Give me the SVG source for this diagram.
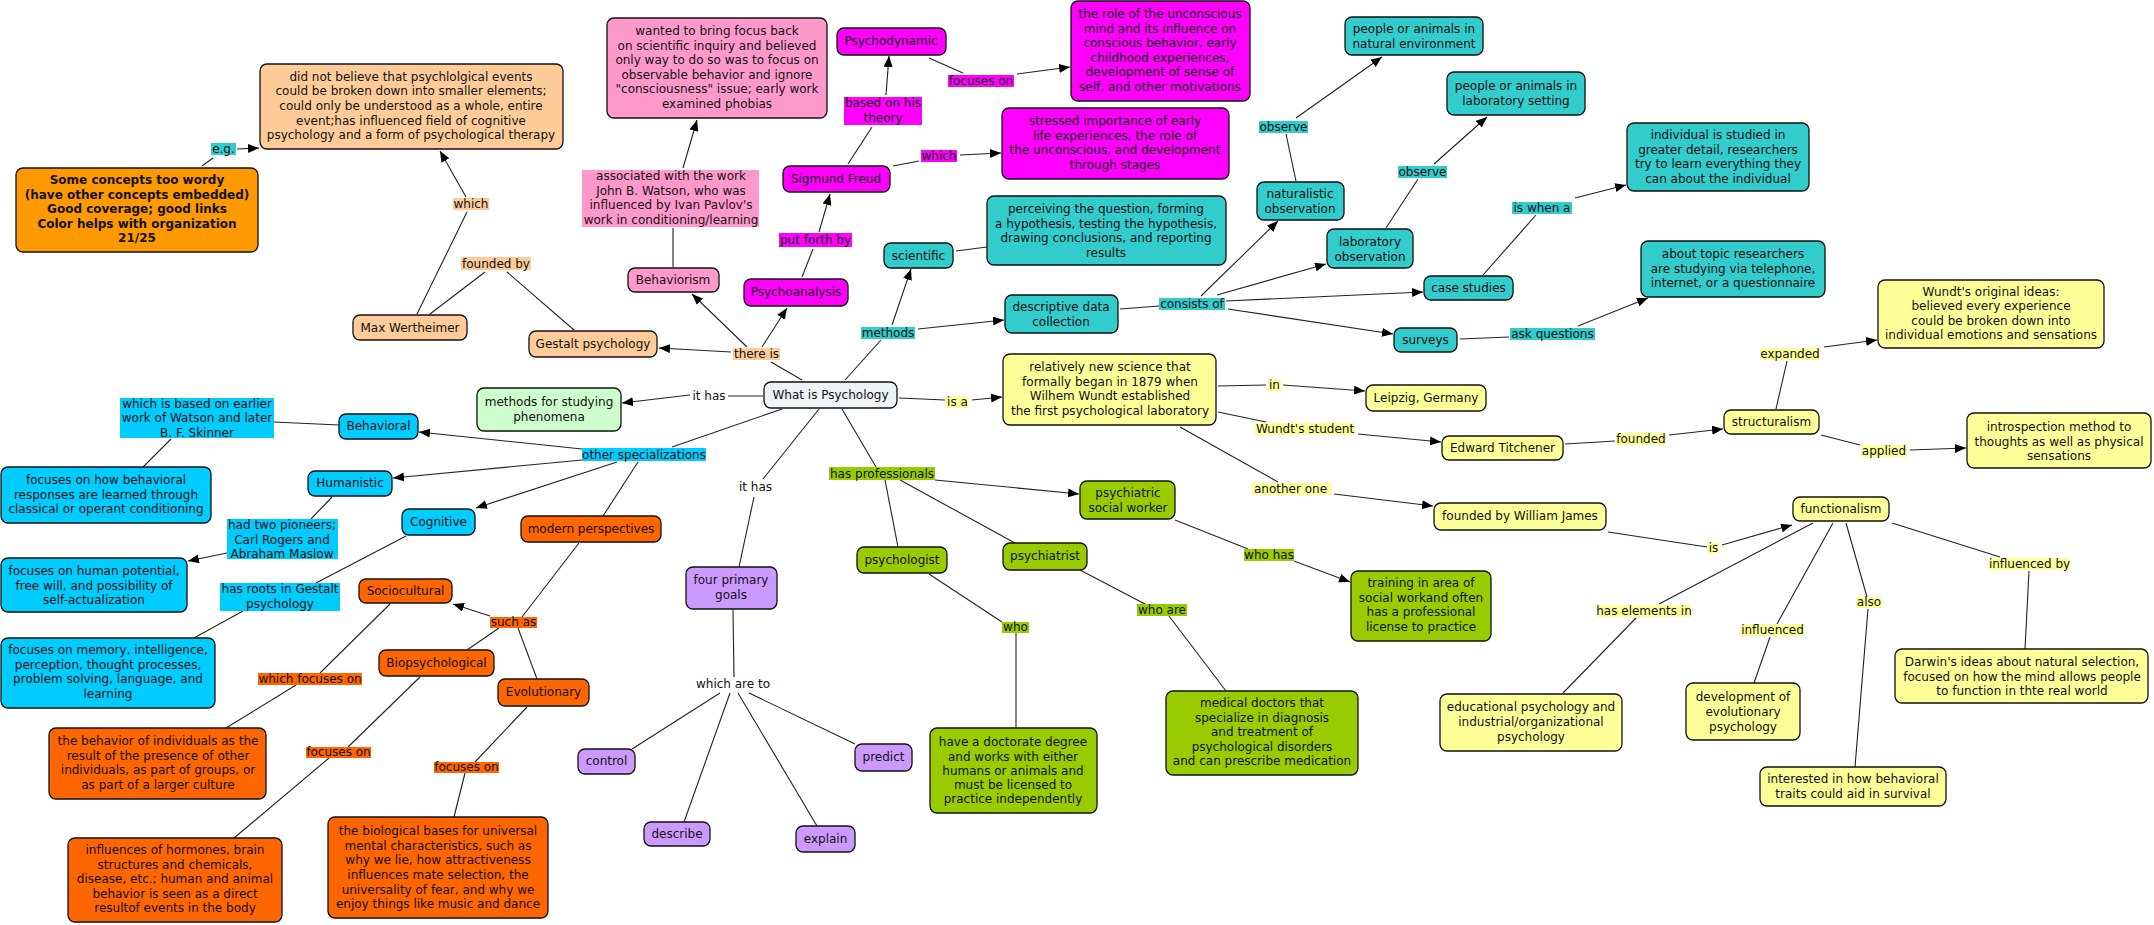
<svg xmlns="http://www.w3.org/2000/svg" width="2154" height="925" viewBox="0 0 2154 925">
<style>
text{font-family:"DejaVu Sans",Verdana,"Liberation Sans",sans-serif;font-size:12px;fill:#111;text-anchor:middle}
.b{font-weight:bold}
.n rect{stroke:#111;stroke-width:1.3}
#connectors line{stroke:#222;stroke-width:1.1}
.a{marker-end:url(#arr)}
.peach{fill:#FFCC99}.org1{fill:#FF9900}.pink{fill:#FF99CC}.mag{fill:#FF00FF}.teal{fill:#33CCCC}
.yel{fill:#FFFF99}.grn{fill:#99CC00}.pur{fill:#CC99FF}.blu{fill:#00CCFF}.org2{fill:#FF6600}
.lgr{fill:#CCFFCC}.wip{fill:#EEF3F6}
</style>
<defs>
<marker id="arr" markerUnits="userSpaceOnUse" markerWidth="12" markerHeight="10" refX="11" refY="4.5" orient="auto">
<path d="M0,0 L11,4.5 L0,9 z" fill="#000"/>
</marker>
</defs>
<rect width="2154" height="925" fill="#fff"/>

<g id="connectors">
<line x1="202" y1="166" x2="213" y2="158"/>
<line class="a" x1="237" y1="149" x2="259" y2="148"/>
<line x1="417" y1="314" x2="467" y2="212"/>
<line class="a" x1="466" y1="197" x2="440" y2="151"/>
<line x1="430" y1="314" x2="485" y2="272"/>
<line x1="507" y1="272" x2="574" y2="330"/>
<line x1="802" y1="380" x2="771" y2="362"/>
<line class="a" x1="731" y1="352" x2="659" y2="348"/>
<line class="a" x1="747" y1="347" x2="692" y2="294"/>
<line class="a" x1="762" y1="347" x2="787" y2="308"/>
<line x1="673" y1="267" x2="673" y2="228"/>
<line class="a" x1="683" y1="168" x2="697" y2="120"/>
<line x1="802" y1="277" x2="813" y2="249"/>
<line class="a" x1="819" y1="232" x2="830" y2="194"/>
<line x1="848" y1="164" x2="872" y2="127"/>
<line class="a" x1="886" y1="95" x2="889" y2="56"/>
<line x1="929" y1="58" x2="963" y2="73"/>
<line class="a" x1="1017" y1="74" x2="1070" y2="67"/>
<line x1="893" y1="166" x2="919" y2="161"/>
<line class="a" x1="960" y1="155" x2="1001" y2="153"/>
<line x1="845" y1="380" x2="881" y2="340"/>
<line class="a" x1="892" y1="325" x2="911" y2="269"/>
<line class="a" x1="918" y1="329" x2="1004" y2="320"/>
<line x1="956" y1="251" x2="987" y2="247"/>
<line x1="1120" y1="309" x2="1159" y2="306"/>
<line class="a" x1="1201" y1="296" x2="1278" y2="221"/>
<line class="a" x1="1217" y1="295" x2="1326" y2="264"/>
<line class="a" x1="1226" y1="301" x2="1423" y2="292"/>
<line class="a" x1="1228" y1="309" x2="1393" y2="334"/>
<line x1="1296" y1="181" x2="1286" y2="134"/>
<line class="a" x1="1296" y1="118" x2="1382" y2="57"/>
<line x1="1386" y1="228" x2="1418" y2="179"/>
<line class="a" x1="1434" y1="164" x2="1487" y2="117"/>
<line x1="1483" y1="275" x2="1536" y2="215"/>
<line class="a" x1="1575" y1="198" x2="1626" y2="185"/>
<line x1="1460" y1="339" x2="1509" y2="337"/>
<line class="a" x1="1578" y1="326" x2="1648" y2="298"/>
<line x1="763" y1="396" x2="728" y2="396"/>
<line class="a" x1="690" y1="395" x2="622" y2="403"/>
<line x1="899" y1="398" x2="945" y2="400"/>
<line class="a" x1="972" y1="400" x2="1002" y2="397"/>
<line x1="1218" y1="386" x2="1266" y2="385"/>
<line class="a" x1="1283" y1="385" x2="1365" y2="391"/>
<line x1="1218" y1="412" x2="1266" y2="422"/>
<line class="a" x1="1358" y1="434" x2="1441" y2="442"/>
<line x1="1565" y1="444" x2="1615" y2="441"/>
<line class="a" x1="1669" y1="435" x2="1723" y2="429"/>
<line x1="1776" y1="409" x2="1787" y2="361"/>
<line class="a" x1="1824" y1="347" x2="1877" y2="340"/>
<line x1="1821" y1="435" x2="1860" y2="445"/>
<line class="a" x1="1910" y1="450" x2="1966" y2="448"/>
<line x1="1180" y1="427" x2="1278" y2="482"/>
<line class="a" x1="1334" y1="494" x2="1433" y2="506"/>
<line x1="1608" y1="532" x2="1707" y2="547"/>
<line class="a" x1="1722" y1="545" x2="1792" y2="525"/>
<line x1="1813" y1="523" x2="1659" y2="604"/>
<line x1="1636" y1="618" x2="1563" y2="693"/>
<line x1="1833" y1="523" x2="1777" y2="624"/>
<line x1="1770" y1="637" x2="1754" y2="683"/>
<line x1="1846" y1="523" x2="1867" y2="597"/>
<line x1="1868" y1="609" x2="1855" y2="767"/>
<line x1="1892" y1="523" x2="2000" y2="557"/>
<line x1="2029" y1="571" x2="2025" y2="649"/>
<line x1="782" y1="409" x2="672" y2="447"/>
<line class="a" x1="582" y1="449" x2="419" y2="432"/>
<line class="a" x1="582" y1="460" x2="393" y2="478"/>
<line class="a" x1="617" y1="462" x2="476" y2="508"/>
<line x1="638" y1="462" x2="603" y2="516"/>
<line x1="339" y1="425" x2="274" y2="422"/>
<line x1="171" y1="439" x2="143" y2="467"/>
<line x1="332" y1="497" x2="311" y2="519"/>
<line class="a" x1="227" y1="553" x2="188" y2="561"/>
<line x1="406" y1="536" x2="316" y2="583"/>
<line x1="243" y1="611" x2="194" y2="638"/>
<line x1="579" y1="543" x2="522" y2="617"/>
<line class="a" x1="490" y1="616" x2="453" y2="604"/>
<line x1="499" y1="628" x2="467" y2="650"/>
<line x1="518" y1="628" x2="537" y2="679"/>
<line x1="390" y1="604" x2="320" y2="673"/>
<line x1="296" y1="685" x2="226" y2="728"/>
<line x1="420" y1="677" x2="348" y2="747"/>
<line x1="329" y1="758" x2="234" y2="838"/>
<line x1="527" y1="707" x2="475" y2="762"/>
<line x1="465" y1="773" x2="454" y2="817"/>
<line x1="819" y1="409" x2="763" y2="479"/>
<line x1="754" y1="497" x2="739" y2="567"/>
<line x1="733" y1="610" x2="734" y2="677"/>
<line x1="720" y1="693" x2="632" y2="749"/>
<line x1="730" y1="693" x2="684" y2="822"/>
<line x1="738" y1="693" x2="817" y2="826"/>
<line x1="749" y1="693" x2="855" y2="744"/>
<line x1="842" y1="409" x2="876" y2="467"/>
<line class="a" x1="935" y1="480" x2="1079" y2="494"/>
<line x1="885" y1="480" x2="898" y2="547"/>
<line x1="900" y1="480" x2="1015" y2="543"/>
<line x1="929" y1="574" x2="1002" y2="622"/>
<line x1="1016" y1="632" x2="1016" y2="728"/>
<line x1="1175" y1="520" x2="1248" y2="549"/>
<line class="a" x1="1294" y1="561" x2="1350" y2="582"/>
<line x1="1080" y1="570" x2="1145" y2="604"/>
<line x1="1169" y1="616" x2="1226" y2="691"/>
</g>

<g id="link-labels">
<rect class="teal" x="211" y="143" width="25" height="12"/><text x="223.5" y="153">e.g.</text>
<rect class="peach" x="453" y="198" width="36" height="12"/><text x="471" y="208">which</text>
<rect class="peach" x="461" y="257" width="70" height="13"/><text x="496" y="268">founded by</text>
<rect class="peach" x="733" y="348" width="47" height="12"/><text x="756.5" y="358">there is</text>
<rect class="pink" x="582" y="170" width="177" height="57"/>
<text><tspan x="671" y="180">associated with the work</tspan><tspan x="671" y="195">John B. Watson, who was</tspan><tspan x="671" y="209">influenced by Ivan Pavlov's</tspan><tspan x="671" y="224">work in conditioning/learning</tspan></text>
<rect class="mag" x="779" y="233" width="73" height="14"/><text x="815.5" y="244">put forth by</text>
<rect class="mag" x="844" y="97" width="78" height="28"/>
<text><tspan x="883" y="107">based on his</tspan><tspan x="883" y="122">theory</tspan></text>
<rect class="mag" x="948" y="75" width="66" height="12"/><text x="981" y="85">focuses on</text>
<rect class="mag" x="921" y="150" width="36" height="12"/><text x="939" y="160">which</text>
<rect class="teal" x="861" y="327" width="54" height="12"/><text x="888" y="337">methods</text>
<rect class="teal" x="1159" y="298" width="66" height="12"/><text x="1192" y="308">consists of</text>
<rect class="teal" x="1259" y="121" width="49" height="12"/><text x="1283.5" y="131">observe</text>
<rect class="teal" x="1398" y="166" width="49" height="12"/><text x="1422.5" y="176">observe</text>
<rect class="teal" x="1512" y="202" width="60" height="12"/><text x="1542" y="212">is when a</text>
<rect class="teal" x="1510" y="328" width="85" height="12"/><text x="1552.5" y="338">ask questions</text>
<text x="709" y="400">it has</text>
<rect class="yel" x="946" y="396" width="23" height="12"/><text x="957.5" y="406">is a</text>
<rect class="yel" x="1268" y="380" width="13" height="11"/><text x="1274.5" y="389">in</text>
<rect class="yel" x="1255" y="423" width="100" height="12"/><text x="1305" y="433">Wundt's student</text>
<rect class="yel" x="1252" y="483" width="80" height="12"/><text x="1254" y="493" style="text-anchor:start">another one</text>
<rect class="yel" x="1616" y="433" width="50" height="12"/><text x="1641" y="443">founded</text>
<rect class="yel" x="1760" y="348" width="60" height="12"/><text x="1790" y="358">expanded</text>
<rect class="yel" x="1861" y="445" width="46" height="12"/><text x="1884" y="455">applied</text>
<rect class="yel" x="1708" y="543" width="11" height="11"/><text x="1713.5" y="552">is</text>
<rect class="yel" x="1597" y="605" width="94" height="12"/><text x="1644" y="615">has elements in</text>
<rect class="yel" x="1741" y="624" width="63" height="12"/><text x="1772.5" y="634">influenced</text>
<rect class="yel" x="1856" y="597" width="26" height="11"/><text x="1869" y="606">also</text>
<rect class="yel" x="1989" y="558" width="81" height="12"/><text x="2029.5" y="568">influenced by</text>
<rect class="blu" x="582" y="448" width="124" height="13"/><text x="644" y="459">other specializations</text>
<rect class="blu" x="120" y="398" width="154" height="40"/>
<text><tspan x="197" y="408">which is based on earlier</tspan><tspan x="197" y="422">work of Watson and later</tspan><tspan x="197" y="437">B. F. Skinner</tspan></text>
<rect class="blu" x="227" y="519" width="111" height="40"/>
<text><tspan x="282" y="529">had two pioneers;</tspan><tspan x="282" y="544">Carl Rogers and</tspan><tspan x="282" y="558">Abraham Maslow</tspan></text>
<rect class="blu" x="220" y="583" width="120" height="28"/>
<text><tspan x="280" y="593">has roots in Gestalt</tspan><tspan x="280" y="608">psychology</tspan></text>
<rect class="org2" x="490" y="617" width="47" height="11"/><text x="513.5" y="626">such as</text>
<rect class="org2" x="258" y="673" width="104" height="12"/><text x="310" y="683">which focuses on</text>
<rect class="org2" x="306" y="747" width="65" height="11"/><text x="338.5" y="756">focuses on</text>
<rect class="org2" x="434" y="762" width="65" height="11"/><text x="466.5" y="771">focuses on</text>
<text x="755.5" y="491">it has</text>
<text x="733" y="688">which are to</text>
<rect class="grn" x="829" y="467" width="106" height="13"/><text x="882" y="478">has professionals</text>
<rect class="grn" x="1002" y="622" width="27" height="11"/><text x="1015.5" y="631">who</text>
<rect class="grn" x="1244" y="549" width="50" height="12"/><text x="1269" y="559">who has</text>
<rect class="grn" x="1137" y="604" width="50" height="12"/><text x="1162" y="614">who are</text>
</g>

<g id="n-someconcepts" class="n"><rect class="org1" x="16" y="168" width="242" height="84" rx="7"/>
<text class="b"><tspan x="137" y="184">Some concepts too wordy</tspan><tspan x="137" y="199">(have other concepts embedded)</tspan><tspan x="137" y="213">Good coverage; good links</tspan><tspan x="137" y="228">Color helps with organization</tspan><tspan x="137" y="242">21/25</tspan></text></g>
<g id="n-gestaltdesc" class="n"><rect class="peach" x="260" y="64" width="303" height="85" rx="7"/>
<text><tspan x="411" y="81">did not believe that psychlolgical events</tspan><tspan x="411" y="95">could be broken down into smaller elements;</tspan><tspan x="411" y="110">could only be understood as a whole, entire</tspan><tspan x="411" y="125">event;has influenced field of cognitive</tspan><tspan x="411" y="139">psychology and a form of psychological therapy</tspan></text></g>
<g id="n-max" class="n"><rect class="peach" x="353" y="315" width="114" height="25" rx="7"/><text x="410" y="332">Max Wertheimer</text></g>
<g id="n-gestalt" class="n"><rect class="peach" x="529" y="331" width="128" height="26" rx="7"/><text x="593" y="348">Gestalt psychology</text></g>
<g id="n-behdesc" class="n"><rect class="pink" x="607" y="18" width="220" height="100" rx="7"/>
<text><tspan x="717" y="35">wanted to bring focus back</tspan><tspan x="717" y="50">on scientific inquiry and believed</tspan><tspan x="717" y="64">only way to do so was to focus on</tspan><tspan x="717" y="79">observable behavior and ignore</tspan><tspan x="717" y="93">"consciousness" issue; early work</tspan><tspan x="717" y="108">examined phobias</tspan></text></g>
<g id="n-behaviorism" class="n"><rect class="pink" x="628" y="268" width="91" height="24" rx="7"/><text x="673" y="284">Behaviorism</text></g>
<g id="n-psychodynamic" class="n"><rect class="mag" x="837" y="28" width="109" height="27" rx="7"/><text x="891" y="45">Psychodynamic</text></g>
<g id="n-unconscious" class="n"><rect class="mag" x="1071" y="1" width="179" height="100" rx="7"/>
<text><tspan x="1160" y="18">the role of the unconscious</tspan><tspan x="1160" y="33">mind and its influence on</tspan><tspan x="1160" y="47">conscious behavior, early</tspan><tspan x="1160" y="62">childhood experiences,</tspan><tspan x="1160" y="76">development of sense of</tspan><tspan x="1160" y="91">self, and other motivations</tspan></text></g>
<g id="n-freud" class="n"><rect class="mag" x="783" y="166" width="107" height="26" rx="7"/><text x="836" y="183">Sigmund Freud</text></g>
<g id="n-stressed" class="n"><rect class="mag" x="1002" y="108" width="227" height="71" rx="7"/>
<text><tspan x="1115" y="125">stressed importance of early</tspan><tspan x="1115" y="140">life experiences, the role of</tspan><tspan x="1115" y="154">the unconscious, and development</tspan><tspan x="1115" y="169">through stages</tspan></text></g>
<g id="n-psychoanalysis" class="n"><rect class="mag" x="744" y="279" width="104" height="27" rx="7"/><text x="796" y="296">Psychoanalysis</text></g>
<g id="n-scientific" class="n"><rect class="teal" x="884" y="243" width="69" height="25" rx="7"/><text x="918.5" y="260">scientific</text></g>
<g id="n-perceiving" class="n"><rect class="teal" x="987" y="196" width="239" height="69" rx="7"/>
<text><tspan x="1106" y="213">perceiving the question, forming</tspan><tspan x="1106" y="228">a hypothesis, testing the hypothesis,</tspan><tspan x="1106" y="242">drawing conclusions, and reporting</tspan><tspan x="1106" y="257">results</tspan></text></g>
<g id="n-descdata" class="n"><rect class="teal" x="1005" y="295" width="113" height="38" rx="7"/>
<text><tspan x="1061" y="311">descriptive data</tspan><tspan x="1061" y="326">collection</tspan></text></g>
<g id="n-naturalistic" class="n"><rect class="teal" x="1257" y="182" width="87" height="38" rx="7"/>
<text><tspan x="1300" y="198">naturalistic</tspan><tspan x="1300" y="213">observation</tspan></text></g>
<g id="n-labobs" class="n"><rect class="teal" x="1327" y="229" width="86" height="39" rx="7"/>
<text><tspan x="1370" y="246">laboratory</tspan><tspan x="1370" y="261">observation</tspan></text></g>
<g id="n-peoplenat" class="n"><rect class="teal" x="1345" y="17" width="138" height="38" rx="7"/>
<text><tspan x="1414" y="33">people or animals in</tspan><tspan x="1414" y="48">natural environment</tspan></text></g>
<g id="n-peoplelab" class="n"><rect class="teal" x="1447" y="72" width="138" height="43" rx="7"/>
<text><tspan x="1516" y="90">people or animals in</tspan><tspan x="1516" y="105">laboratory setting</tspan></text></g>
<g id="n-individual" class="n"><rect class="teal" x="1627" y="123" width="182" height="68" rx="7"/>
<text><tspan x="1718" y="139">individual is studied in</tspan><tspan x="1718" y="154">greater detail, researchers</tspan><tspan x="1718" y="168">try to learn everything they</tspan><tspan x="1718" y="183">can about the individual</tspan></text></g>
<g id="n-casestudies" class="n"><rect class="teal" x="1424" y="276" width="89" height="24" rx="7"/><text x="1468.5" y="292">case studies</text></g>
<g id="n-surveys" class="n"><rect class="teal" x="1394" y="328" width="63" height="24" rx="7"/><text x="1425.5" y="344">surveys</text></g>
<g id="n-abouttopic" class="n"><rect class="teal" x="1641" y="241" width="184" height="56" rx="7"/>
<text><tspan x="1733" y="258">about topic researchers</tspan><tspan x="1733" y="273">are studying via telephone,</tspan><tspan x="1733" y="287">internet, or a questionnaire</tspan></text></g>
<g id="n-wundtorig" class="n"><rect class="yel" x="1878" y="280" width="226" height="68" rx="7"/>
<text><tspan x="1991" y="296">Wundt's original ideas:</tspan><tspan x="1991" y="310">believed every experience</tspan><tspan x="1991" y="325">could be broken down into</tspan><tspan x="1991" y="339">individual emotions and sensations</tspan></text></g>
<g id="n-wip" class="n"><rect class="wip" x="764" y="382" width="133" height="26" rx="7"/><text x="830.5" y="399">What is Psychology</text></g>
<g id="n-methodsstudy" class="n"><rect class="lgr" x="477" y="388" width="144" height="43" rx="7"/>
<text><tspan x="549" y="406">methods for studying</tspan><tspan x="549" y="421">phenomena</tspan></text></g>
<g id="n-relnew" class="n"><rect class="yel" x="1003" y="354" width="213" height="71" rx="7"/>
<text><tspan x="1110" y="371">relatively new science that</tspan><tspan x="1110" y="386">formally began in 1879 when</tspan><tspan x="1110" y="400">Wilhem Wundt established</tspan><tspan x="1110" y="415">the first psychological laboratory</tspan></text></g>
<g id="n-leipzig" class="n"><rect class="yel" x="1366" y="385" width="120" height="26" rx="7"/><text x="1426" y="402">Leipzig, Germany</text></g>
<g id="n-titchener" class="n"><rect class="yel" x="1442" y="436" width="121" height="24" rx="7"/><text x="1502.5" y="452">Edward Titchener</text></g>
<g id="n-structuralism" class="n"><rect class="yel" x="1724" y="410" width="95" height="24" rx="7"/><text x="1771.5" y="426">structuralism</text></g>
<g id="n-introspection" class="n"><rect class="yel" x="1967" y="413" width="184" height="55" rx="7"/>
<text><tspan x="2059" y="431">introspection method to</tspan><tspan x="2059" y="446">thoughts as well as physical</tspan><tspan x="2059" y="460">sensations</tspan></text></g>
<g id="n-james" class="n"><rect class="yel" x="1434" y="503" width="172" height="27" rx="7"/><text x="1520" y="520">founded by William James</text></g>
<g id="n-functionalism" class="n"><rect class="yel" x="1793" y="497" width="96" height="24" rx="7"/><text x="1841" y="513">functionalism</text></g>
<g id="n-educational" class="n"><rect class="yel" x="1440" y="694" width="182" height="57" rx="7"/>
<text><tspan x="1531" y="711">educational psychology and</tspan><tspan x="1531" y="726">industrial/organizational</tspan><tspan x="1531" y="741">psychology</tspan></text></g>
<g id="n-development" class="n"><rect class="yel" x="1686" y="683" width="114" height="57" rx="7"/>
<text><tspan x="1743" y="701">development of</tspan><tspan x="1743" y="716">evolutionary</tspan><tspan x="1743" y="731">psychology</tspan></text></g>
<g id="n-interested" class="n"><rect class="yel" x="1760" y="767" width="186" height="39" rx="7"/>
<text><tspan x="1853" y="783">interested in how behavioral</tspan><tspan x="1853" y="798">traits could aid in survival</tspan></text></g>
<g id="n-darwin" class="n"><rect class="yel" x="1895" y="649" width="253" height="54" rx="7"/>
<text><tspan x="2022" y="666">Darwin's ideas about natural selection,</tspan><tspan x="2022" y="681">focused on how the mind allows people</tspan><tspan x="2022" y="695">to function in thte real world</tspan></text></g>
<g id="n-psw" class="n"><rect class="grn" x="1080" y="481" width="95" height="38" rx="7"/>
<text><tspan x="1128" y="497">psychiatric</tspan><tspan x="1128" y="512">social worker</tspan></text></g>
<g id="n-training" class="n"><rect class="grn" x="1351" y="571" width="140" height="70" rx="7"/>
<text><tspan x="1421" y="587">training in area of</tspan><tspan x="1421" y="602">social workand often</tspan><tspan x="1421" y="616">has a professional</tspan><tspan x="1421" y="631">license to practice</tspan></text></g>
<g id="n-medical" class="n"><rect class="grn" x="1166" y="691" width="192" height="84" rx="7"/>
<text><tspan x="1262" y="707">medical doctors that</tspan><tspan x="1262" y="722">specialize in diagnosis</tspan><tspan x="1262" y="736">and treatment of</tspan><tspan x="1262" y="751">psychological disorders</tspan><tspan x="1262" y="765">and can prescribe medication</tspan></text></g>
<g id="n-psychologist" class="n"><rect class="grn" x="857" y="547" width="90" height="26" rx="7"/><text x="902" y="564">psychologist</text></g>
<g id="n-psychiatrist" class="n"><rect class="grn" x="1003" y="543" width="84" height="27" rx="7"/><text x="1045" y="560">psychiatrist</text></g>
<g id="n-doctorate" class="n"><rect class="grn" x="930" y="728" width="167" height="85" rx="7"/>
<text><tspan x="1013" y="746">have a doctorate degree</tspan><tspan x="1013" y="761">and works with either</tspan><tspan x="1013" y="775">humans or animals and</tspan><tspan x="1013" y="789">must be licensed to</tspan><tspan x="1013" y="803">practice independently</tspan></text></g>
<g id="n-fourgoals" class="n"><rect class="pur" x="686" y="567" width="91" height="42" rx="7"/>
<text><tspan x="731" y="584">four primary</tspan><tspan x="731" y="599">goals</tspan></text></g>
<g id="n-control" class="n"><rect class="pur" x="578" y="749" width="57" height="25" rx="7"/><text x="606.5" y="765">control</text></g>
<g id="n-predict" class="n"><rect class="pur" x="855" y="744" width="57" height="27" rx="7"/><text x="883.5" y="761">predict</text></g>
<g id="n-describe" class="n"><rect class="pur" x="644" y="822" width="66" height="24" rx="7"/><text x="677" y="838">describe</text></g>
<g id="n-explain" class="n"><rect class="pur" x="796" y="826" width="59" height="26" rx="7"/><text x="825.5" y="843">explain</text></g>
<g id="n-behavioral" class="n"><rect class="blu" x="339" y="414" width="79" height="25" rx="7"/><text x="378.5" y="430">Behavioral</text></g>
<g id="n-humanistic" class="n"><rect class="blu" x="308" y="471" width="84" height="25" rx="7"/><text x="350" y="487">Humanistic</text></g>
<g id="n-cognitive" class="n"><rect class="blu" x="402" y="509" width="73" height="26" rx="7"/><text x="438.5" y="526">Cognitive</text></g>
<g id="n-behfocus" class="n"><rect class="blu" x="1" y="467" width="210" height="56" rx="7"/>
<text><tspan x="106" y="484">focuses on how behavioral</tspan><tspan x="106" y="499">responses are learned through</tspan><tspan x="106" y="513">classical or operant conditioning</tspan></text></g>
<g id="n-humfocus" class="n"><rect class="blu" x="1" y="558" width="186" height="54" rx="7"/>
<text><tspan x="94" y="575">focuses on human potential,</tspan><tspan x="94" y="590">free will, and possibility of</tspan><tspan x="94" y="604">self-actualization</tspan></text></g>
<g id="n-cogfocus" class="n"><rect class="blu" x="1" y="638" width="214" height="70" rx="7"/>
<text><tspan x="108" y="654">focuses on memory, intelligence,</tspan><tspan x="108" y="669">perception, thought processes,</tspan><tspan x="108" y="683">problem solving, language, and</tspan><tspan x="108" y="698">learning</tspan></text></g>
<g id="n-modern" class="n"><rect class="org2" x="521" y="516" width="140" height="26" rx="7"/><text x="591" y="533">modern perspectives</text></g>
<g id="n-sociocultural" class="n"><rect class="org2" x="359" y="579" width="93" height="24" rx="7"/><text x="405.5" y="595">Sociocultural</text></g>
<g id="n-biopsych" class="n"><rect class="org2" x="379" y="650" width="115" height="26" rx="7"/><text x="436.5" y="667">Biopsychological</text></g>
<g id="n-evolutionary" class="n"><rect class="org2" x="498" y="679" width="91" height="27" rx="7"/><text x="543.5" y="696">Evolutionary</text></g>
<g id="n-socdesc" class="n"><rect class="org2" x="49" y="728" width="217" height="71" rx="7"/>
<text><tspan x="158" y="745">the behavior of individuals as the</tspan><tspan x="158" y="760">result of the presence of other</tspan><tspan x="158" y="774">individuals, as part of groups, or</tspan><tspan x="158" y="789">as part of a larger culture</tspan></text></g>
<g id="n-biodesc" class="n"><rect class="org2" x="68" y="838" width="214" height="84" rx="7"/>
<text><tspan x="175" y="854">influences of hormones, brain</tspan><tspan x="175" y="869">structures and chemicals,</tspan><tspan x="175" y="883">disease, etc.; human and animal</tspan><tspan x="175" y="898">behavior is seen as a direct</tspan><tspan x="175" y="912">resultof events in the body</tspan></text></g>
<g id="n-evodesc" class="n"><rect class="org2" x="328" y="817" width="220" height="101" rx="7"/>
<text><tspan x="438" y="835">the biological bases for universal</tspan><tspan x="438" y="850">mental characteristics, such as</tspan><tspan x="438" y="864">why we lie, how attractiveness</tspan><tspan x="438" y="879">influences mate selection, the</tspan><tspan x="438" y="894">universality of fear, and why we</tspan><tspan x="438" y="908">enjoy things like music and dance</tspan></text></g>
</svg>
